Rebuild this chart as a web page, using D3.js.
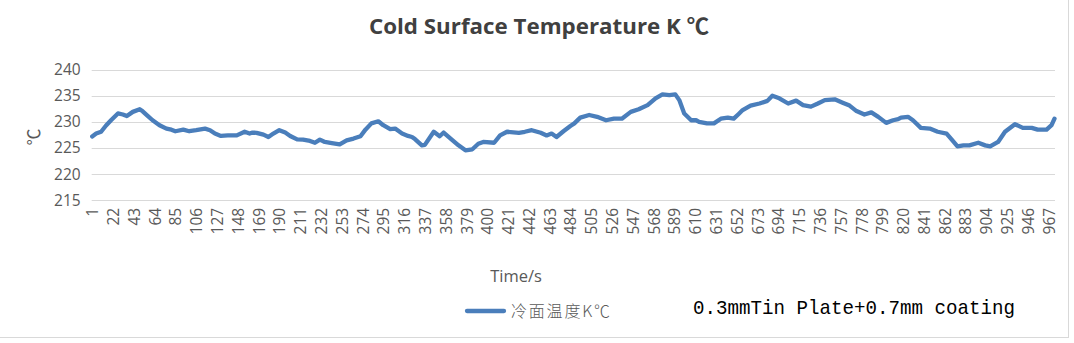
<!DOCTYPE html>
<html>
<head>
<meta charset="utf-8">
<script src="https://cdn.jsdelivr.net/npm/d3@7"></script>
<style>
html,body{margin:0;padding:0;background:#fff;}
svg{display:block;}
</style>
</head>
<body>
<script>
const times = [1,5,10,15,20,27,32,36,42,49,52,57,62,69,76,81,85,93,99,106,115,120,125,131,138,147,155,160,163,167,174,179,184,190,196,201,208,214,221,226,231,236,243,251,258,265,272,277,283,290,295,302,307,314,320,324,327,334,337,346,352,356,363,371,378,385,391,396,407,413,420,432,438,445,454,460,465,470,477,484,488,494,503,511,520,528,536,545,553,562,570,577,584,590,594,599,606,611,614,622,629,636,643,649,654,658,666,675,683,688,695,704,712,719,727,734,741,751,759,766,773,781,788,795,803,810,815,818,825,830,838,847,855,864,869,875,881,887,896,903,908,916,923,933,941,950,956,965,970,973];
const temps = [227.2,227.75,228.1,229.3,230.3,231.6,231.4,231.1,231.9,232.4,232.0,231.15,230.3,229.35,228.7,228.5,228.2,228.5,228.2,228.4,228.7,228.4,227.75,227.3,227.4,227.4,228.1,227.75,227.95,227.9,227.55,227.1,227.75,228.4,227.95,227.3,226.65,226.6,226.35,226.0,226.6,226.15,225.95,225.7,226.45,226.8,227.25,228.5,229.7,230.1,229.35,228.6,228.7,227.75,227.3,227.1,226.7,225.5,225.6,228.1,227.25,227.95,226.8,225.5,224.55,224.75,225.8,226.15,226.0,227.4,228.1,227.9,228.1,228.4,227.9,227.4,227.75,227.1,228.2,229.2,229.7,230.8,231.3,230.95,230.3,230.6,230.6,231.9,232.4,233.2,234.5,235.25,235.1,235.25,234.15,231.6,230.3,230.3,230.0,229.7,229.7,230.6,230.8,230.6,231.5,232.25,233.1,233.5,234.0,235.0,234.5,233.5,234.05,233.2,232.9,233.5,234.15,234.3,233.65,233.1,232.05,231.4,231.8,230.95,229.8,230.3,230.5,230.8,230.95,230.3,228.85,228.7,228.1,227.75,226.65,225.3,225.5,225.5,226.0,225.5,225.3,226.15,228.1,229.55,228.85,228.85,228.5,228.5,229.35,230.6];
const categoryCount = 973;
const xTickLabels = d3.range(1, 968, 21);
const yTicks = [215, 220, 225, 230, 235, 240];
const chartTitle = "Cold Surface Temperature K ℃";
const seriesName = "冷面温度K℃";
const xAxisTitle = "Time/s";
const yAxisTitle = "℃";
const note = "0.3mmTin Plate+0.7mm coating";

const W = 1074, H = 343;
const svg = d3.select("body").append("svg").attr("width", W).attr("height", H);
svg.append("rect").attr("width", W).attr("height", H).attr("fill", "#fff");

// chart border (right & bottom)
svg.append("line").attr("x1", 1068.5).attr("x2", 1068.5).attr("y1", 0).attr("y2", 338).attr("stroke", "#d9d9d9");
svg.append("line").attr("x1", 0).attr("x2", 1069).attr("y1", 337.5).attr("y2", 337.5).attr("stroke", "#d9d9d9");

const plotL = 91.7, plotR = 1055, plotT = 69.5, plotB = 200.3;
const x = d3.scaleLinear().domain([0.5, categoryCount + 0.5]).range([plotL, plotR]);
const y = d3.scaleLinear().domain([215, 240]).range([plotB, plotT]);

// grid
svg.append("g").selectAll("line").data(yTicks).join("line")
  .attr("x1", plotL).attr("x2", plotR)
  .attr("y1", d => Math.round(y(d)) + 0.5).attr("y2", d => Math.round(y(d)) + 0.5)
  .attr("stroke", "#d9d9d9").attr("stroke-width", 1);

// y axis
const yAxis = svg.append("g").attr("transform", `translate(${plotL},0)`)
  .call(d3.axisLeft(y).tickValues(yTicks).tickSize(0).tickPadding(11));
yAxis.select(".domain").remove();
yAxis.selectAll("text").attr("font-family", "'Open Sans', sans-serif").attr("font-size", 15.5).attr("fill", "#595959");

// x axis
const xAxis = svg.append("g").attr("transform", `translate(0,${plotB})`)
  .call(d3.axisBottom(x).tickValues(xTickLabels).tickFormat(d3.format("d")).tickSize(0));
xAxis.select(".domain").remove();
xAxis.selectAll("text")
  .attr("font-family", "'Open Sans', sans-serif").attr("font-size", 15.5).attr("fill", "#595959")
  .attr("text-anchor", "end").attr("transform", "rotate(-90)")
  .attr("x", -7.5).attr("y", 0).attr("dy", "0.36em");

// line
const pts = times.map((t, i) => [t, temps[i]]);
svg.append("path").datum(pts)
  .attr("fill", "none").attr("stroke", "#4a7ebb").attr("stroke-width", 4.3)
  .attr("stroke-linejoin", "round").attr("stroke-linecap", "round")
  .attr("d", d3.line().x(d => x(d[0])).y(d => y(d[1])));

// title
svg.append("text").attr("x", 539).attr("y", 34).attr("text-anchor", "middle")
  .attr("font-family", "'Open Sans', 'Noto Sans CJK SC', sans-serif").attr("font-weight", "bold")
  .attr("font-size", 22).attr("fill", "#404040")
  .attr("textLength", 340).attr("lengthAdjust", "spacingAndGlyphs")
  .text(chartTitle);

// y axis title
svg.append("text").attr("transform", "translate(40,137) rotate(-90)").attr("text-anchor", "middle")
  .attr("font-family", "'Noto Sans CJK SC', sans-serif").attr("font-size", 17).attr("fill", "#595959")
  .text(yAxisTitle);

// x axis title
svg.append("text").attr("x", 516).attr("y", 282).attr("text-anchor", "middle")
  .attr("font-family", "'Open Sans', sans-serif").attr("font-size", 16.5).attr("fill", "#595959")
  .text(xAxisTitle);

// legend
svg.append("line").attr("x1", 467).attr("x2", 504).attr("y1", 311).attr("y2", 311)
  .attr("stroke", "#4a7ebb").attr("stroke-width", 4.3).attr("stroke-linecap", "round");
svg.append("text").attr("x", 511).attr("y", 317)
  .attr("font-family", "'Noto Sans CJK SC', sans-serif").attr("font-weight", 300).attr("font-size", 16).attr("fill", "#595959")
  .attr("textLength", 99).attr("lengthAdjust", "spacing")
  .text(seriesName);

// note
svg.append("text").attr("x", 693).attr("y", 314)
  .attr("font-family", "'Liberation Mono', monospace").attr("font-size", 21).attr("fill", "#000")
  .attr("textLength", 322).attr("lengthAdjust", "spacingAndGlyphs")
  .text(note);
</script>
</body>
</html>
